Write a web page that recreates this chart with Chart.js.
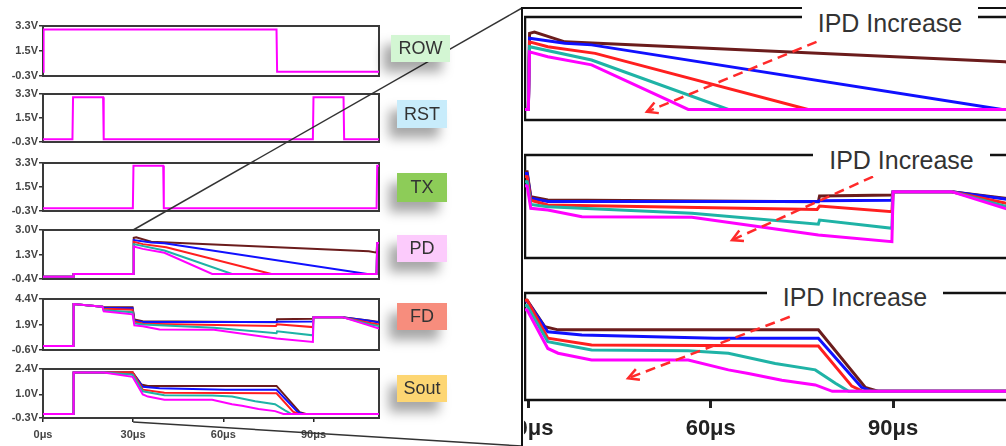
<!DOCTYPE html>
<html>
<head>
<meta charset="utf-8">
<script src="https://cdn.jsdelivr.net/npm/chart.js@4.4.1/dist/chart.umd.min.js"></script>
<style>
html, body { margin:0; padding:0; overflow:hidden; background:#fff; }
#stage { position:relative; width:1006px; height:446px; overflow:hidden; font-family: Arial, "Liberation Sans", sans-serif; }
#stage canvas { position:absolute; }
#wires { position:absolute; left:0; top:0; }
.tag { position:absolute; font-size:18px; color:#333; text-align:center; box-shadow:-8px 10px 12px rgba(0,0,0,0.35); }
.ipd { position:absolute; background:#fff; color:#333; font-size:25px; text-align:center; height:32px; line-height:32px; white-space:nowrap; }
</style>
</head>
<body>
<div id="stage">
  <!-- left: full timing -->
  <canvas id="cRow"  width="385" height="66" style="left:0;top:18px"></canvas>
  <canvas id="cRst"  width="385" height="64" style="left:0;top:86px"></canvas>
  <canvas id="cTx"   width="385" height="64" style="left:0;top:155px"></canvas>
  <canvas id="cPd"   width="385" height="65" style="left:0;top:222px"></canvas>
  <canvas id="cFd"   width="385" height="67" style="left:0;top:291px"></canvas>
  <canvas id="cSout" width="385" height="85" style="left:0;top:361px"></canvas>
  <!-- right: zoomed part -->
  <canvas id="rPd"   width="498" height="119" style="left:524px;top:9px"></canvas>
  <canvas id="rFd"   width="498" height="119" style="left:524px;top:147px"></canvas>
  <canvas id="rSout" width="498" height="161" style="left:524px;top:285px"></canvas>

  <svg id="wires" width="1006" height="446"></svg>

  <div class="tag" style="left:391px;top:35px;width:59px;height:27px;line-height:27px;background:#d3f6d3">ROW</div>
  <div class="tag" style="left:397px;top:100px;width:50px;height:28px;line-height:28px;background:#c8ecfb">RST</div>
  <div class="tag" style="left:397px;top:173px;width:50px;height:29px;line-height:29px;background:#8dcc58">TX</div>
  <div class="tag" style="left:397px;top:235px;width:50px;height:27px;line-height:27px;background:#fccbfc">PD</div>
  <div class="tag" style="left:397px;top:303px;width:50px;height:27px;line-height:27px;background:#f78d7d">FD</div>
  <div class="tag" style="left:397px;top:375px;width:50px;height:27px;line-height:27px;background:#fdd673">Sout</div>

  <div class="ipd" style="left:802px;top:7px;width:176px">IPD Increase</div>
  <div class="ipd" style="left:813px;top:144px;width:177px">IPD Increase</div>
  <div class="ipd" style="left:767px;top:281px;width:176px">IPD Increase</div>
</div>

<script>
// ---- data: [time in us, volts] ----
const rowSig = [[0,0],[0.2,3.05],[77.7,3.05],[77.9,0],[111.8,0]];
const rstSig = [[0,-0.1],[9.8,-0.1],[10,3.05],[20,3.05],[20.2,-0.1],[89.8,-0.1],[90,3.05],[100,3.05],[100.2,-0.1],[111.8,-0.1]];
const txSig  = [[0,-0.1],[29.9,-0.1],[30.1,3.1],[40,3.1],[40.2,-0.1],[111,-0.1],[111.2,3.1],[111.8,3.1]];

// PD (photodiode), 5 photocurrents
const pdMagenta = [[0,-0.25],[10,-0.25],[10.2,-0.05],[30,-0.05],[30.2,1.85],[33.2,1.69],[40.4,1.42],[56.3,-0.05],[111,-0.05],[111.2,2.1],[111.8,2.1]];
const pdTeal    = [[0,-0.25],[10,-0.25],[10.2,-0.05],[30,-0.05],[30.2,2.02],[40.4,1.58],[62.9,-0.05],[111,-0.05],[111.2,2.1],[111.8,2.1]];
const pdRed     = [[0,-0.25],[10,-0.25],[10.2,-0.05],[30,-0.05],[30.2,2.18],[33.2,2.02],[41,1.8],[76,-0.05],[111,-0.05],[111.2,2.1],[111.8,2.1]];
const pdBlue    = [[0,-0.25],[10,-0.25],[10.2,-0.05],[30,-0.05],[30.2,2.3],[36,2.13],[40.4,2.08],[107.9,-0.05],[111,-0.05],[111.2,2.1],[111.8,2.1]];
const pdBrown   = [[0,-0.25],[10,-0.25],[10.2,-0.05],[30,-0.05],[30.2,2.46],[31,2.5],[36,2.18],[108.4,1.52],[111,1.43],[111.2,2.1],[111.8,2.1]];

// FD (floating diffusion)
const fdMagenta = [[0,-0.2],[10,-0.2],[10.2,3.9],[19.8,3.65],[20.2,3.2],[29.8,2.9],[30.4,1.81],[33.2,1.73],[38.8,1.4],[56.9,1.38],[77.7,0.52],[89.8,0.19],[90,2.62],[99.6,2.62],[108.4,1.81],[111.8,1.5]];
const fdTeal    = [[0,-0.2],[10,-0.2],[10.2,3.9],[19.8,3.65],[20.2,3.3],[29.8,3.1],[30.4,2.0],[33.2,1.89],[56.9,1.57],[77.7,1.04],[77.9,1.24],[89.8,0.84],[90,2.62],[99.6,2.62],[108.4,1.92],[111.8,1.75]];
const fdRed     = [[0,-0.2],[10,-0.2],[10.2,3.9],[19.8,3.65],[20.2,3.45],[29.8,3.35],[30.4,2.2],[33.2,1.97],[77.5,1.76],[77.9,1.92],[89.8,1.65],[90,2.62],[99.6,2.62],[108.4,2.07],[111.8,1.9]];
const fdBlue    = [[0,-0.2],[10,-0.2],[10.2,3.9],[19.8,3.65],[20.2,3.55],[29.8,3.5],[30.4,2.3],[33.2,2.14],[77.7,2.14],[77.9,2.18],[89.8,2.2],[90,2.62],[99.6,2.62],[108.4,2.26],[111.8,2.1]];
const fdBrown   = [[0,-0.2],[10,-0.2],[10.2,3.9],[19.8,3.65],[20.2,3.6],[29.8,3.59],[30.4,2.38],[33.2,2.22],[77.7,2.13],[77.9,2.41],[89.8,2.46],[90,2.62],[99.6,2.62],[108.4,2.3],[111.8,2.15]];

// Sout (pixel output)
const soutMagenta = [[0,-0.08],[10,-0.08],[10.2,2.21],[20.2,2.21],[29.8,1.97],[33.2,1.0],[34.9,0.88],[40.4,0.71],[56.3,0.71],[62.9,0.46],[66.2,0.37],[71.7,0.2],[77.2,0.08],[80,-0.08],[111.8,-0.08]];
const soutTeal    = [[0,-0.08],[10,-0.08],[10.2,2.21],[20.2,2.21],[29.8,2.08],[33.2,1.17],[40.4,0.96],[56.3,0.94],[62.9,0.88],[70.6,0.62],[77.2,0.46],[80.5,0.12],[82.7,-0.08],[111.8,-0.08]];
const soutRed     = [[0,-0.08],[10,-0.08],[10.2,2.21],[20.2,2.21],[29.8,2.22],[33.2,1.26],[40.4,1.09],[77.7,1.06],[83.2,0.05],[85,-0.08],[111.8,-0.08]];
const soutBlue    = [[0,-0.08],[10,-0.08],[10.2,2.21],[20.2,2.21],[29.8,2.2],[33.2,1.42],[38.8,1.34],[60.7,1.26],[77.7,1.26],[84.8,0.02],[86.5,-0.08],[111.8,-0.08]];
const soutBrown   = [[0,-0.08],[10,-0.08],[10.2,2.21],[20.2,2.21],[29.8,2.22],[32.7,1.55],[34.9,1.47],[77.7,1.47],[85.4,0.02],[87.5,-0.08],[111.8,-0.08]];

// axis ticks
const rowTicks  = [-0.3, 1.5, 3.3];
const pdTicks   = [-0.4, 1.3, 3.0];
const fdTicks   = [-0.6, 1.9, 4.4];
const soutTicks = [-0.3, 1.0, 2.4];
const leftTime  = [0, 30, 60, 90];
const rightTime = [30, 60, 90];

// "IPD Increase" arrows (tail, head)
const pdArrow   = [[77.4, 2.18], [49.5, -0.13]];
const fdArrow   = [[86.7, 3.35], [63.5, 0.27]];
const soutArrow = [[73.0, 1.80], [46.4, 0.25]];

// magenta, teal, red, blue, brown  (first is drawn on top)
const colors = ['#ff00ff', '#1fb3a6', '#ff1f1f', '#1010ff', '#6b1c1c'];

var boxPlugin = {
    id: 'box',
    beforeDatasetsDraw: function(chart, args, o) {
        var a = chart.chartArea, c = chart.ctx;
        c.save();
        c.strokeStyle = o.color || '#333';
        c.lineWidth = o.w || 2;
        c.strokeRect(a.left, a.top, a.right - a.left, a.bottom - a.top);
        c.restore();
    }
};

var arrowPlugin = {
    id: 'arrow',
    afterDatasetsDraw: function(chart, args, o) {
        if (!o.pts) return;
        var xs = chart.scales.x, ys = chart.scales.y, c = chart.ctx;
        var x1 = xs.getPixelForValue(o.pts[0][0]), y1 = ys.getPixelForValue(o.pts[0][1]);
        var x2 = xs.getPixelForValue(o.pts[1][0]), y2 = ys.getPixelForValue(o.pts[1][1]);
        var ang = Math.atan2(y2 - y1, x2 - x1);
        c.save();
        c.strokeStyle = '#ff2a2a';
        c.lineWidth = 2.5;
        c.setLineDash([10, 6]);
        c.beginPath(); c.moveTo(x1, y1); c.lineTo(x2, y2); c.stroke();
        c.setLineDash([]);
        c.beginPath();
        c.moveTo(x2 - 12 * Math.cos(ang - 0.5), y2 - 12 * Math.sin(ang - 0.5));
        c.lineTo(x2, y2);
        c.lineTo(x2 - 12 * Math.cos(ang + 0.5), y2 - 12 * Math.sin(ang + 0.5));
        c.stroke();
        c.restore();
    }
};

function makeChart(id, sets, yTicks, opt) {
    var right = !!opt.right;
    var xTicks = right ? rightTime : leftTime;
    var xScale = {
        type: 'linear',
        min: right ? 29.45 : 0,
        max: right ? 111.2 : 111.8,
        display: !!opt.xLabels,
        afterBuildTicks: function(s) { s.ticks = xTicks.map(function(v){ return {value: v}; }); },
        grid: { display: true, drawOnChartArea: false, drawTicks: true,
                tickLength: right ? 8 : 4, lineWidth: right ? 3 : 1.5, color: '#222' },
        border: { display: false },
        ticks: { autoSkip: false, maxRotation: 0, padding: right ? 8 : 6, color: right ? '#222' : '#444',
                 font: { family: 'Arial', weight: 'bold', size: right ? 22 : 11 },
                 callback: function(v){ return v + 'μs'; } }
    };
    if (opt.xLabels) {
        xScale.afterFit = function(s) { s.height = right ? 46 : 28; s.paddingLeft = 0; s.paddingRight = 0; };
    }
    var yScale = {
        min: yTicks[0], max: yTicks[yTicks.length - 1],
        display: !right,
        afterBuildTicks: function(s) { s.ticks = yTicks.map(function(v){ return {value: v}; }); },
        grid: { display: true, drawOnChartArea: false, drawTicks: true, tickLength: 4, lineWidth: 1.5, color: '#333' },
        border: { display: false },
        ticks: { autoSkip: false, padding: 1, color: '#444',
                 font: { family: 'Arial', weight: 'bold', size: 11 },
                 callback: function(v){ return v.toFixed(1) + 'V'; } }
    };
    if (!right) {
        yScale.afterFit = function(s) { s.width = 43; };
    }
    return new Chart(document.getElementById(id).getContext('2d'), {
        type: 'line',
        data: {
            datasets: sets.map(function(s, i) {
                return {
                    data: s.map(function(p){ return {x: p[0], y: p[1]}; }),
                    borderColor: colors[i],
                    borderWidth: right ? 3 : 2,
                    pointRadius: 0,
                    fill: false,
                    tension: 0
                };
            })
        },
        options: {
            responsive: false,
            animation: false,
            events: [],
            layout: { padding: { top: 8, bottom: opt.xLabels ? 0 : 8, left: right ? 1 : 0, right: right ? 0 : 6 } },
            plugins: {
                legend: { display: false },
                tooltip: { enabled: false },
                box: { w: right ? 2.5 : 2, color: right ? '#111' : '#3a3a3a' },
                arrow: { pts: opt.arrow }
            },
            scales: { x: xScale, y: yScale }
        },
        plugins: [boxPlugin, arrowPlugin]
    });
}

makeChart('cRow', [rowSig], rowTicks, {});
makeChart('cRst', [rstSig], rowTicks, {});
makeChart('cTx',  [txSig],  rowTicks, {});
var leftPd   = makeChart('cPd',   [pdMagenta, pdTeal, pdRed, pdBlue, pdBrown], pdTicks, {});
makeChart('cFd',  [fdMagenta, fdTeal, fdRed, fdBlue, fdBrown], fdTicks, {});
var leftSout = makeChart('cSout', [soutMagenta, soutTeal, soutRed, soutBlue, soutBrown], soutTicks, { xLabels: true });

makeChart('rPd',   [pdMagenta, pdTeal, pdRed, pdBlue, pdBrown], pdTicks, { right: true, arrow: pdArrow });
makeChart('rFd',   [fdMagenta, fdTeal, fdRed, fdBlue, fdBrown], fdTicks, { right: true, arrow: fdArrow });
makeChart('rSout', [soutMagenta, soutTeal, soutRed, soutBlue, soutBrown], soutTicks, { right: true, xLabels: true, arrow: soutArrow });

// zoom frame + connector lines, starting from the 30us point of the left panels
var px1 = leftPd.scales.x.getPixelForValue(30), py1 = 222 + leftPd.chartArea.top;
var px2 = leftSout.scales.x.getPixelForValue(30), py2 = 361 + leftSout.chartArea.bottom + 4;
document.getElementById('wires').innerHTML =
    '<line x1="' + px1 + '" y1="' + py1 + '" x2="522" y2="8" stroke="#333" stroke-width="1.5"/>' +
    '<line x1="' + px2 + '" y1="' + py2 + '" x2="522" y2="446" stroke="#333" stroke-width="1.5"/>' +
    '<line x1="522" y1="8" x2="1006" y2="8" stroke="#111" stroke-width="2"/>' +
    '<line x1="522" y1="7" x2="522" y2="446" stroke="#111" stroke-width="2"/>';
</script>
</body>
</html>
